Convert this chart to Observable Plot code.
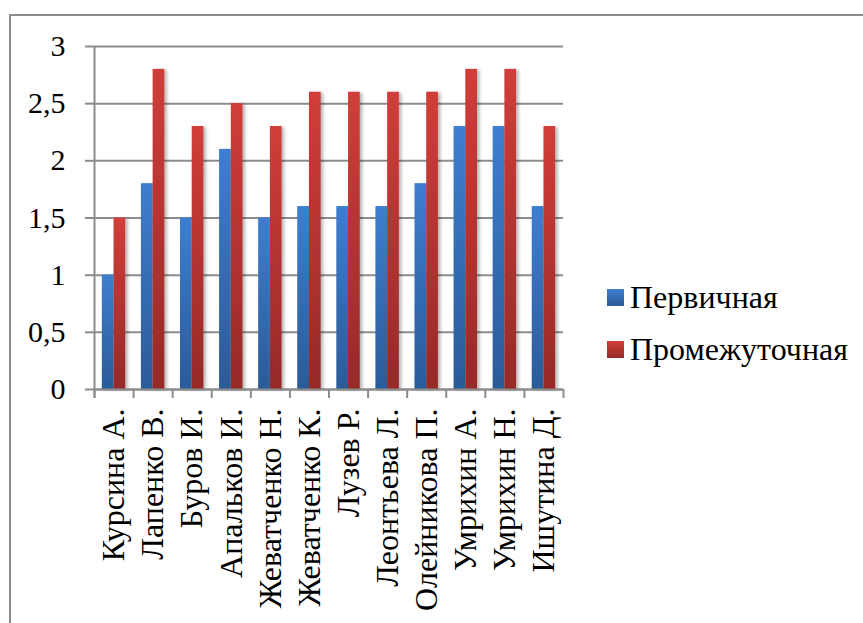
<!DOCTYPE html>
<html>
<head>
<meta charset="utf-8">
<script src="https://cdn.jsdelivr.net/npm/d3@7"></script>
<script src="https://cdn.jsdelivr.net/npm/@observablehq/plot@0.6"></script>
<style>
  html, body { margin: 0; padding: 0; background: #fff; }
  #wrap { position: relative; width: 863px; height: 623px; overflow: hidden; font-family: 'Liberation Serif', 'Times New Roman', serif; }
  #frame { position: absolute; left: 9px; top: 14px; width: 1000px; height: 1000px; border: 2px solid #8c8c8c; pointer-events: none; }
  .leg { position: absolute; left: 607px; font-size: 32px; line-height: 32px; white-space: nowrap; color: #000; font-family: 'Liberation Serif', serif; }
  .sw { position: absolute; left: 0; width: 17px; height: 17px; }
  .lt { position: absolute; left: 23px; top: 0; }
  #wrap svg text { font-family: 'Liberation Serif', 'Times New Roman', serif; }
</style>
</head>
<body>
<div id="wrap"></div>
<script>
const names = ["Курсина А.", "Лапенко В.", "Буров И.", "Апальков И.", "Жеватченко Н.", "Жеватченко К.",
               "Лузев Р.", "Леонтьева Л.", "Олейникова П.", "Умрихин А.", "Умрихин Н.", "Ишутина Д."];
const primary = [1.0, 1.8, 1.5, 2.1, 1.5, 1.6, 1.6, 1.6, 1.8, 2.3, 2.3, 1.6];
const intermediate = [1.5, 2.8, 2.3, 2.5, 2.3, 2.6, 2.6, 2.6, 2.6, 2.8, 2.8, 2.3];
const seriesNames = ["Первичная", "Промежуточная"];
const yTicks = [0, 0.5, 1, 1.5, 2, 2.5, 3];

const idx = d3.range(names.length);
const gridColor = "#8c8c8c";
const serif = "'Liberation Serif', 'Times New Roman', serif";

const defs = () => {
  const d = d3.create("svg:defs");
  const g1 = d.append("linearGradient").attr("id", "gBlue").attr("x1", 0).attr("y1", 0).attr("x2", 0).attr("y2", 1);
  g1.append("stop").attr("offset", "0%").attr("stop-color", "#3e7ecf");
  g1.append("stop").attr("offset", "100%").attr("stop-color", "#2b5b98");
  const g2 = d.append("linearGradient").attr("id", "gRed").attr("x1", 0).attr("y1", 0).attr("x2", 0).attr("y2", 1);
  g2.append("stop").attr("offset", "0%").attr("stop-color", "#d13d3a");
  g2.append("stop").attr("offset", "100%").attr("stop-color", "#962a28");
  const f = d.append("filter").attr("id", "shadow").attr("x", "-20%").attr("y", "-10%").attr("width", "160%").attr("height", "130%");
  f.append("feDropShadow").attr("dx", 2.5).attr("dy", 1).attr("stdDeviation", 1.6).attr("flood-color", "#000").attr("flood-opacity", 0.28);
  return d.node();
};

const chart = Plot.plot({
  width: 863,
  height: 623,
  marginLeft: 94,
  marginRight: 300,
  marginTop: 46,
  marginBottom: 234,
  style: { fontFamily: serif, fontSize: "30px", background: "transparent", color: "#000" },
  x: { type: "linear", domain: [0, names.length], axis: null },
  y: { domain: [0, 3], axis: null },
  marks: [
    defs,
    Plot.gridY(yTicks, { stroke: gridColor, strokeOpacity: 1, strokeWidth: 2 }),
    Plot.axisY(yTicks, { tickSize: 9, tickPadding: 20, stroke: gridColor, strokeWidth: 2, fontSize: 30,
                         tickFormat: d => String(d).replace(".", ",") }),
    Plot.rectY(idx, { x1: i => i + 0.2, x2: i => i + 0.5, y1: 0, y2: i => primary[i], fill: "url(#gBlue)" }),
    Plot.rectY(idx, { x1: i => i + 0.5, x2: i => i + 0.8, y1: 0, y2: i => intermediate[i], fill: "url(#gRed)" }),
    Plot.ruleY([0], { stroke: gridColor, strokeWidth: 2 }),
    Plot.ruleX([0], { stroke: gridColor, strokeWidth: 2, insetBottom: -9 }),
    Plot.axisX(d3.range(names.length + 1), { tickSize: 9, stroke: gridColor, strokeWidth: 2, tickFormat: () => "" }),
    Plot.axisX(idx.map(i => i + 0.5), { tickSize: 0, tickPadding: 19, tickRotate: -90, fontSize: 32,
                                        tickFormat: d => names[Math.floor(d)] })
  ]
});

d3.select(chart).selectAll("g[aria-label='rect']").attr("filter", "url(#shadow)");

const wrap = document.getElementById("wrap");
wrap.appendChild(chart);
chart.style.position = "absolute";
chart.style.left = "0";
chart.style.top = "0";

const legendColors = ["linear-gradient(#3e7ecf, #2b5b98)", "linear-gradient(#d13d3a, #962a28)"];
const legendTops = [281, 333];
seriesNames.forEach((s, k) => {
  const item = document.createElement("div");
  item.className = "leg";
  item.style.top = legendTops[k] + "px";
  const sw = document.createElement("div");
  sw.className = "sw";
  sw.style.top = "8px";
  sw.style.background = legendColors[k];
  const t = document.createElement("span");
  t.className = "lt";
  t.textContent = s;
  item.appendChild(sw);
  item.appendChild(t);
  wrap.appendChild(item);
});

const frame = document.createElement("div");
frame.id = "frame";
wrap.appendChild(frame);
</script>
</body>
</html>
